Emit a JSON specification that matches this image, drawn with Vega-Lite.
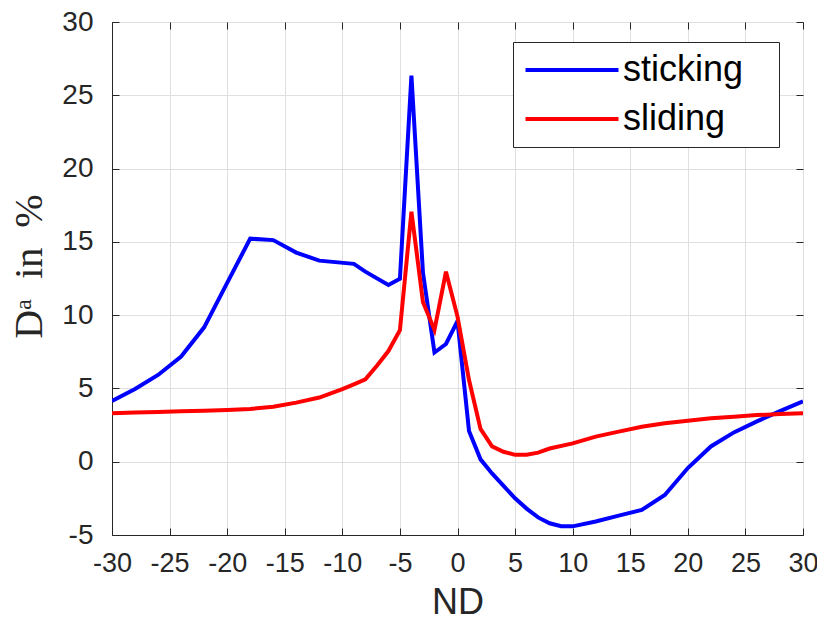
{
  "$schema": "https://vega.github.io/schema/vega-lite/v6.json",
  "autosize": {"type": "none"},
  "padding": {"left": 112, "top": 22, "right": 14, "bottom": 90},
  "width": 691,
  "height": 513,
  "background": "white",
  "config": {
    "view": {"stroke": "#262626", "strokeWidth": 1},
    "font": "Liberation Sans",
    "legend": {
      "orient": "none",
      "legendX": 401,
      "legendY": 20,
      "strokeColor": "#262626",
      "fillColor": "white",
      "padding": 10,
      "cornerRadius": 0,
      "symbolType": "M-1,0H5",
      "symbolSize": 961,
      "symbolStrokeWidth": 4,
      "labelFont": "Liberation Sans",
      "labelFontSize": 36,
      "labelColor": "black",
      "labelOffset": 64,
      "rowPadding": 13,
      "labelLimit": 400
    }
  },
  "data": {
    "values": [
      {"nd": -30, "d": 4.14, "s": "sticking"},
      {"nd": -28, "d": 4.96, "s": "sticking"},
      {"nd": -26, "d": 5.92, "s": "sticking"},
      {"nd": -24, "d": 7.18, "s": "sticking"},
      {"nd": -22, "d": 9.17, "s": "sticking"},
      {"nd": -20, "d": 12.2, "s": "sticking"},
      {"nd": -18, "d": 15.22, "s": "sticking"},
      {"nd": -16, "d": 15.12, "s": "sticking"},
      {"nd": -14, "d": 14.27, "s": "sticking"},
      {"nd": -12, "d": 13.72, "s": "sticking"},
      {"nd": -9, "d": 13.5, "s": "sticking"},
      {"nd": -8, "d": 12.97, "s": "sticking"},
      {"nd": -6, "d": 12.06, "s": "sticking"},
      {"nd": -5, "d": 12.48, "s": "sticking"},
      {"nd": -4, "d": 26.35, "s": "sticking"},
      {"nd": -3, "d": 12.9, "s": "sticking"},
      {"nd": -2, "d": 7.45, "s": "sticking"},
      {"nd": -1, "d": 8.03, "s": "sticking"},
      {"nd": 0, "d": 9.6, "s": "sticking"},
      {"nd": 1, "d": 2.1, "s": "sticking"},
      {"nd": 2, "d": 0.16, "s": "sticking"},
      {"nd": 3, "d": -0.8, "s": "sticking"},
      {"nd": 4, "d": -1.65, "s": "sticking"},
      {"nd": 5, "d": -2.5, "s": "sticking"},
      {"nd": 6, "d": -3.2, "s": "sticking"},
      {"nd": 7, "d": -3.8, "s": "sticking"},
      {"nd": 8, "d": -4.2, "s": "sticking"},
      {"nd": 9, "d": -4.4, "s": "sticking"},
      {"nd": 10, "d": -4.41, "s": "sticking"},
      {"nd": 12, "d": -4.08, "s": "sticking"},
      {"nd": 14, "d": -3.68, "s": "sticking"},
      {"nd": 16, "d": -3.29, "s": "sticking"},
      {"nd": 18, "d": -2.27, "s": "sticking"},
      {"nd": 20, "d": -0.43, "s": "sticking"},
      {"nd": 22, "d": 1.04, "s": "sticking"},
      {"nd": 24, "d": 2.0, "s": "sticking"},
      {"nd": 26, "d": 2.75, "s": "sticking"},
      {"nd": 28, "d": 3.45, "s": "sticking"},
      {"nd": 30, "d": 4.12, "s": "sticking"},
      {"nd": -30, "d": 3.3, "s": "sliding"},
      {"nd": -28, "d": 3.35, "s": "sliding"},
      {"nd": -26, "d": 3.4, "s": "sliding"},
      {"nd": -24, "d": 3.44, "s": "sliding"},
      {"nd": -22, "d": 3.48, "s": "sliding"},
      {"nd": -20, "d": 3.53, "s": "sliding"},
      {"nd": -18, "d": 3.6, "s": "sliding"},
      {"nd": -16, "d": 3.75, "s": "sliding"},
      {"nd": -14, "d": 4.03, "s": "sliding"},
      {"nd": -12, "d": 4.38, "s": "sliding"},
      {"nd": -10, "d": 4.95, "s": "sliding"},
      {"nd": -9, "d": 5.28, "s": "sliding"},
      {"nd": -8, "d": 5.62, "s": "sliding"},
      {"nd": -7, "d": 6.55, "s": "sliding"},
      {"nd": -6, "d": 7.55, "s": "sliding"},
      {"nd": -5, "d": 8.97, "s": "sliding"},
      {"nd": -4, "d": 17.06, "s": "sliding"},
      {"nd": -3, "d": 10.9, "s": "sliding"},
      {"nd": -2, "d": 8.99, "s": "sliding"},
      {"nd": -1, "d": 12.96, "s": "sliding"},
      {"nd": 0, "d": 9.9, "s": "sliding"},
      {"nd": 1, "d": 5.57, "s": "sliding"},
      {"nd": 2, "d": 2.24, "s": "sliding"},
      {"nd": 3, "d": 1.05, "s": "sliding"},
      {"nd": 4, "d": 0.68, "s": "sliding"},
      {"nd": 5, "d": 0.47, "s": "sliding"},
      {"nd": 6, "d": 0.47, "s": "sliding"},
      {"nd": 7, "d": 0.62, "s": "sliding"},
      {"nd": 8, "d": 0.9, "s": "sliding"},
      {"nd": 10, "d": 1.25, "s": "sliding"},
      {"nd": 12, "d": 1.71, "s": "sliding"},
      {"nd": 14, "d": 2.05, "s": "sliding"},
      {"nd": 16, "d": 2.39, "s": "sliding"},
      {"nd": 18, "d": 2.62, "s": "sliding"},
      {"nd": 20, "d": 2.8, "s": "sliding"},
      {"nd": 22, "d": 2.96, "s": "sliding"},
      {"nd": 24, "d": 3.07, "s": "sliding"},
      {"nd": 26, "d": 3.18, "s": "sliding"},
      {"nd": 28, "d": 3.25, "s": "sliding"},
      {"nd": 30, "d": 3.3, "s": "sliding"}
    ]
  },
  "layer": [
    {
      "mark": {"type": "line", "strokeWidth": 4, "clip": true},
      "encoding": {
        "x": {
          "field": "nd", "type": "quantitative",
          "scale": {"domain": [-30, 30], "nice": false, "zero": false},
          "axis": {
            "orient": "bottom",
            "title": "ND",
            "values": [-30, -25, -20, -15, -10, -5, 0, 5, 10, 15, 20, 25, 30],
            "labelExpr": "'' + datum.value",
            "grid": true, "gridColor": "#dfdfdf", "gridWidth": 1,
            "domainColor": "#262626", "tickColor": "#262626",
            "tickSize": -7, "labelPadding": 22,
            "labelFont": "Liberation Sans", "labelFontSize": 27, "labelColor": "#262626",
            "labelFlush": false, "labelOverlap": false,
            "titleFont": "Liberation Sans", "titleFontSize": 36, "titleFontWeight": "normal",
            "titleColor": "#262626", "titlePadding": 9,
            "encode": {"labels": {"update": {"dx": {"value": -5}}}}
          }
        },
        "y": {
          "field": "d", "type": "quantitative",
          "scale": {"domain": [-5, 30], "nice": false, "zero": false},
          "axis": {
            "orient": "left",
            "title": "Dᵃ\u2002in\u2002%",
            "titleY": 244,
            "values": [-5, 0, 5, 10, 15, 20, 25, 30],
            "labelExpr": "'' + datum.value",
            "grid": true, "gridColor": "#dfdfdf", "gridWidth": 1,
            "domainColor": "#262626", "tickColor": "#262626",
            "tickSize": -7, "labelPadding": 26,
            "labelFont": "Liberation Sans", "labelFontSize": 28, "labelColor": "#262626",
            "labelFlush": false, "labelOverlap": false,
            "titleFont": "Liberation Serif", "titleFontSize": 40, "titleFontWeight": "normal",
            "titleColor": "#262626", "titlePadding": 12
          }
        },
        "color": {
          "field": "s", "type": "nominal",
          "scale": {"domain": ["sticking", "sliding"], "range": ["#0000ff", "#ff0000"]},
          "legend": {"title": null, "labelExpr": "datum.label + '\u2002\u2009\u200b'"}
        }
      }
    },
    {
      "mark": {"type": "line", "strokeOpacity": 0},
      "encoding": {
        "x": {
          "field": "nd", "type": "quantitative",
          "axis": {"orient": "top", "title": null, "labels": false, "grid": false, "domain": false,
                   "values": [-30, -25, -20, -15, -10, -5, 0, 5, 10, 15, 20, 25, 30],
                   "tickSize": -7, "tickColor": "#262626"}
        },
        "y": {
          "field": "d", "type": "quantitative",
          "axis": {"orient": "right", "title": null, "labels": false, "grid": false, "domain": false,
                   "values": [-5, 0, 5, 10, 15, 20, 25, 30],
                   "tickSize": -7, "tickColor": "#262626"}
        },
        "detail": {"field": "s", "type": "nominal"}
      }
    }
  ],
  "resolve": {"axis": {"x": "independent", "y": "independent"}}
}
